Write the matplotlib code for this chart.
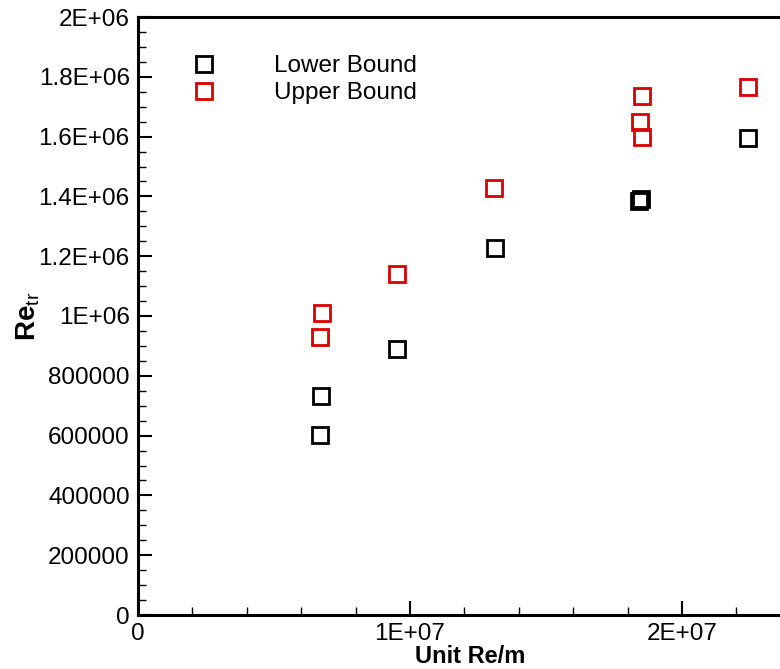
import matplotlib
matplotlib.use("Agg")
import matplotlib.pyplot as plt
from matplotlib.ticker import FixedLocator, FixedFormatter, MultipleLocator

plt.rcParams['font.family'] = ['Liberation Sans', 'DejaVu Sans']
plt.rcParams['mathtext.fontset'] = 'custom'
plt.rcParams['mathtext.rm'] = 'Liberation Sans'
plt.rcParams['mathtext.bf'] = 'Liberation Sans:bold'

# data
lower_x = [6.69e6, 6.73e6, 9.52e6, 13.12e6, 18.43e6, 18.50e6, 22.43e6]
lower_y = [0.602e6, 0.732e6, 0.889e6, 1.227e6, 1.383e6, 1.390e6, 1.595e6]
upper_x = [6.69e6, 6.76e6, 9.52e6, 13.09e6, 18.46e6, 18.53e6, 18.53e6, 22.43e6]
upper_y = [0.930e6, 1.010e6, 1.140e6, 1.428e6, 1.649e6, 1.599e6, 1.736e6, 1.766e6]

x_ticks = [0, 1e7, 2e7]
x_tick_labels = ['0', '1E+07', '2E+07']
y_ticks = [0, 2e5, 4e5, 6e5, 8e5, 1e6, 1.2e6, 1.4e6, 1.6e6, 1.8e6, 2e6]
y_tick_labels = ['0', '200000', '400000', '600000', '800000', '1E+06',
                 '1.2E+06', '1.4E+06', '1.6E+06', '1.8E+06', '2E+06']

fig = plt.figure(figsize=(7.8, 6.69), dpi=100)
ax = fig.add_axes([138/780, 54/669, 664/780, 598/669])

ms = 11
mew = 2.0
ax.plot(lower_x, lower_y, linestyle='none', marker='s', ms=ms, mfc='none',
        mec='black', mew=mew, label='Lower Bound', clip_on=False)
ax.plot(upper_x, upper_y, linestyle='none', marker='s', ms=ms, mfc='none',
        mec='#d80000', mew=mew, label='Upper Bound', clip_on=False)

ax.set_xlim(0, 664/272*1e7)
ax.set_ylim(0, 2e6)

ax.xaxis.set_major_locator(FixedLocator(x_ticks))
ax.xaxis.set_major_formatter(FixedFormatter(x_tick_labels))
ax.xaxis.set_minor_locator(MultipleLocator(2e6))
ax.yaxis.set_major_locator(FixedLocator(y_ticks))
ax.yaxis.set_major_formatter(FixedFormatter(y_tick_labels))
ax.yaxis.set_minor_locator(MultipleLocator(5e4))

ax.tick_params(which='major', direction='in', length=10, width=1.5,
               labelsize=17.5, pad=6, top=False, right=False)
ax.tick_params(which='minor', direction='in', length=6, width=1.0,
               top=False, right=False)

for s in ['left', 'bottom', 'top']:
    ax.spines[s].set_linewidth(2.2)
ax.spines['right'].set_visible(False)

ax.set_xlabel('Unit Re/m', fontsize=17, fontweight='bold', labelpad=0)
ax.set_ylabel(r'$\mathbf{Re}_{\mathrm{tr}}$', fontsize=20)
ax.yaxis.set_label_coords(-0.145, 0.50)

leg = ax.legend(loc='upper left', bbox_to_anchor=(0.066, 0.952), frameon=False,
                fontsize=17.5, handlelength=1.0, handletextpad=2.4,
                labelspacing=0.2, borderaxespad=0)

fig.savefig('out.png', dpi=100)
